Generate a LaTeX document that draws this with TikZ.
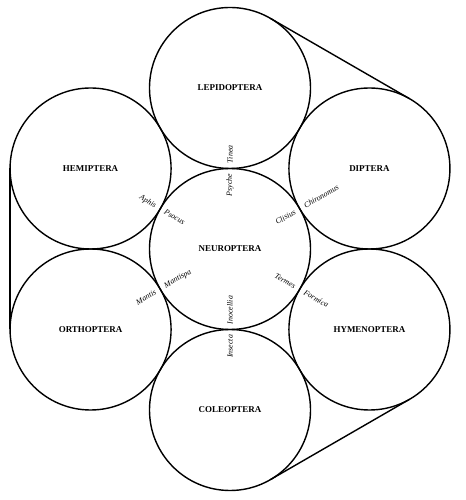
\documentclass[tikz,border=0pt]{standalone}
\usepackage{fontspec}
\setmainfont{Liberation Serif}

\tikzset{
  order/.style={circle, draw, line width=.8pt, outer sep=0pt, inner sep=0pt,
    minimum size=3.22cm, font=\fontsize{5.1}{6}\selectfont\bfseries},
  genus/.style={inner sep=.6pt, font=\fontsize{4.5}{5}\selectfont\itshape},
  tangent/.style={line width=.8pt}
}

\begin{document}
\begin{tikzpicture}
\useasboundingbox (-4.60,-5.02) rectangle (4.70,4.98);
\node[order] (neu) at (0,0) {NEUROPTERA};
% the six orders round Neuroptera, with the genera at each contact
\foreach \a/\n/\t/\r/\i/\o/\ia/\oa in {
  90/lep/LEPIDOPTERA/90/Psyche/Tinea/east/west,
  30/dip/DIPTERA/30/Clisius/Chironomus/east/west,
  330/hym/HYMENOPTERA/-30/Termes/Formica/east/west,
  270/col/COLEOPTERA/90/Inocellia/Insecta/west/east,
  210/ort/ORTHOPTERA/30/Mantispa/Mantis/west/east,
  150/hem/HEMIPTERA/-30/Psocus/Aphis/west/east}
{
\node[order] (\n) at (\a:3.22) {\t};
\node[genus, rotate=\r, anchor=\ia] (\n-in) at (\a:1.53) {\i};
\node[genus, rotate=\r, anchor=\oa] (\n-out) at (\a:1.69) {\o};
}
\draw[tangent] (lep.60) -- (dip.60);
\draw[tangent] (hem.180) -- (ort.180);
\draw[tangent] (col.-60) -- (hym.-60);
\end{tikzpicture}
\end{document}
